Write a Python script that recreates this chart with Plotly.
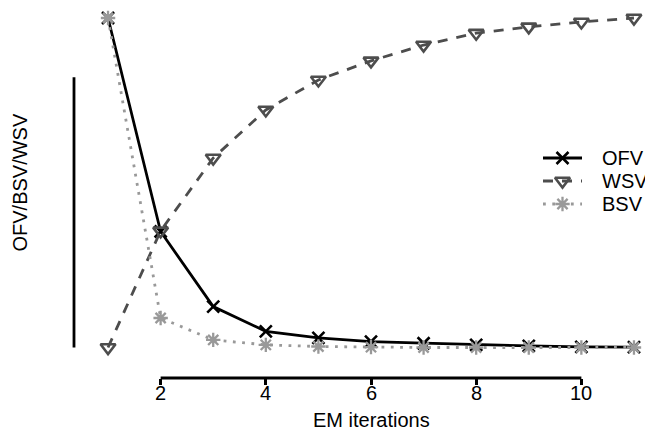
import plotly.graph_objects as go

# EM convergence traces (scaled to [0, 1])
iterations = list(range(1, 12))
ofv = [1.0, 0.352, 0.124, 0.049, 0.029, 0.018, 0.013, 0.008, 0.005, 0.002, 0.001]
wsv = [0.0, 0.354, 0.575, 0.721, 0.812, 0.870, 0.918, 0.954, 0.973, 0.988, 1.0]
bsv = [1.0, 0.0895, 0.023, 0.008, 0.003, 0.001, 0.0, 0.0, 0.0, 0.0, 0.0]
x_ticks = [2, 4, 6, 8, 10]
series_names = ["OFV", "WSV", "BSV"]

FONT = "Liberation Sans, Arial, Helvetica, sans-serif"
W, H = 645, 429
M_L, M_R, M_T, M_B = 74, 0, 5, 51
LW = 2.8

# styles: (line colour, dash, marker symbol, marker size, marker line width)
styles = {
    "OFV": ("#000000", "solid", "x-thin-open", 12, 2.6),
    "WSV": ("#4d4d4d", "10px,9px", "triangle-down-open", 13, 2.6),
    "BSV": ("#999999", "2.8px,6.5px", "asterisk-open", 12, 2.3),
}
values = {"OFV": ofv, "WSV": wsv, "BSV": bsv}

fig = go.Figure()
for name in series_names:
    col, dash, sym, size, mlw = styles[name]
    fig.add_trace(go.Scatter(
        x=iterations, y=values[name], mode="lines+markers", name=name,
        line=dict(color=col, width=LW, dash=dash),
        marker=dict(symbol=sym, size=size, color=col,
                    line=dict(color=col, width=mlw)),
        showlegend=False, cliponaxis=False,
    ))

# hand-drawn key on a pixel-space overlay
legend_rows = [158, 181, 204]
seg_x0, seg_x1, text_x = 543, 582, 600
for name, yrow in zip(series_names, legend_rows):
    col, dash, sym, size, mlw = styles[name]
    fig.add_trace(go.Scatter(
        x=[seg_x0, seg_x1], y=[yrow, yrow], mode="lines",
        line=dict(color=col, width=LW, dash=dash),
        xaxis="x2", yaxis="y2", showlegend=False, hoverinfo="skip",
    ))
    fig.add_trace(go.Scatter(
        x=[(seg_x0 + seg_x1) / 2], y=[yrow], mode="markers",
        marker=dict(symbol=sym, size=size, color=col,
                    line=dict(color=col, width=mlw)),
        xaxis="x2", yaxis="y2", showlegend=False, hoverinfo="skip",
    ))
    fig.add_annotation(x=text_x, y=yrow, xref="x2", yref="y2", text=name,
                       showarrow=False, xanchor="left", yanchor="middle",
                       font=dict(family=FONT, size=20, color="#000000"))

# axis lines in R style (spanning only the tick range)
fig.add_shape(type="line", xref="x", yref="paper", x0=x_ticks[0], x1=x_ticks[-1],
              y0=0, y1=0, line=dict(color="#000000", width=LW))
fig.add_shape(type="line", xref="paper", yref="y", x0=0, x1=0, y0=0, y1=0.82,
              line=dict(color="#000000", width=LW))

# tick labels placed just under the ticks
for t in x_ticks:
    fig.add_annotation(x=t, y=-0.041, xref="x", yref="paper", text=str(t),
                       showarrow=False, xanchor="center", yanchor="middle",
                       font=dict(family=FONT, size=20, color="#000000"))

fig.add_annotation(x=6, y=-0.113, xref="x", yref="paper", text="EM iterations",
                   showarrow=False, xanchor="center", yanchor="middle",
                   font=dict(family=FONT, size=20, color="#000000"))
fig.add_annotation(x=-0.095, y=0.5, xref="paper", yref="y", text="OFV/BSV/WSV",
                   showarrow=False, textangle=-90, xanchor="center", yanchor="middle",
                   font=dict(family=FONT, size=20, color="#000000"))

fig.update_layout(
    width=W, height=H,
    margin=dict(l=M_L, r=M_R, t=M_T, b=M_B, pad=0),
    paper_bgcolor="white", plot_bgcolor="rgba(0,0,0,0)",
    font=dict(family=FONT, size=20, color="#000000"),
    xaxis=dict(domain=[(87 - M_L) / (W - M_L - M_R), 1], range=[0.6, 11.21],
               anchor="free", position=0,
               tickvals=x_ticks, showticklabels=False,
               ticks="outside", ticklen=6, tickwidth=LW, tickcolor="#000000",
               showline=False, showgrid=False, zeroline=False),
    yaxis=dict(domain=[(378 - 360.68) / (H - M_T - M_B), 1], range=[-0.04, 1.0395],
               showticklabels=False, ticks="", showline=False, showgrid=False,
               zeroline=False),
    xaxis2=dict(domain=[0, 1], range=[M_L, W - M_R], anchor="y2", visible=False,
                fixedrange=True),
    yaxis2=dict(domain=[0, 1], range=[H - M_B, M_T], anchor="x2", visible=False,
                fixedrange=True),
    showlegend=False,
)

fig.write_html("out.html")
